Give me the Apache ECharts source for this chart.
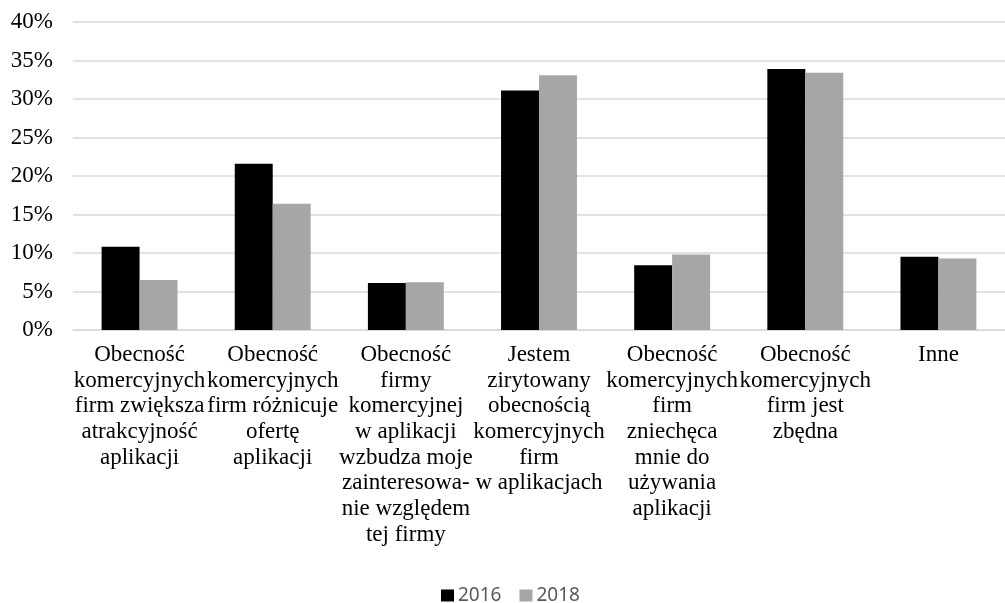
<!DOCTYPE html>
<html>
<head>
<meta charset="utf-8">
<script src="https://cdn.jsdelivr.net/npm/echarts@6/dist/echarts.min.js"></script>
<style>
  html, body { margin: 0; padding: 0; background: #fff; }
  #chart { width: 1005px; height: 603px; }
</style>
</head>
<body>
<div id="chart"></div>
<script>
const categories = [
  "Obecność\nkomercyjnych\nfirm zwiększa\natrakcyjność\naplikacji",
  "Obecność\nkomercyjnych\nfirm różnicuje\nofertę\naplikacji",
  "Obecność\nfirmy\nkomercyjnej\nw aplikacji\nwzbudza moje\nzainteresowa-\nnie względem\ntej firmy",
  "Jestem\nzirytowany\nobecnością\nkomercyjnych\nfirm\nw aplikacjach",
  "Obecność\nkomercyjnych\nfirm\nzniechęca\nmnie do\nużywania\naplikacji",
  "Obecność\nkomercyjnych\nfirm jest\nzbędna",
  "Inne"
];
const values2016 = [10.8, 21.6, 6.1, 31.1, 8.4, 33.9, 9.5];
const values2018 = [6.5, 16.4, 6.2, 33.1, 9.8, 33.4, 9.3];
const seriesNames = ["2016", "2018"];

const chart = echarts.init(document.getElementById('chart'), null, { renderer: 'canvas' });
chart.setOption({
  animation: false,
  backgroundColor: '#ffffff',
  grid: { left: 73, top: 22, width: 941, height: 308, containLabel: false },
  legend: {
    left: 436, top: 581,
    itemWidth: 13, itemHeight: 12, itemGap: 18,
    icon: 'rect',
    textStyle: { fontFamily: 'Noto Sans', fontSize: 19, color: '#595959', padding: [0, 0, 0, -1] },
    data: seriesNames
  },
  xAxis: {
    type: 'category',
    data: categories,
    axisLine: { show: true, lineStyle: { color: '#d9d9d9', width: 1.5 } },
    axisTick: { show: false },
    axisLabel: {
      interval: 0,
      margin: 12,
      fontFamily: 'Liberation Serif',
      fontSize: 23,
      lineHeight: 25.7,
      color: '#000',
      align: 'center'
    }
  },
  yAxis: {
    type: 'value',
    min: 0, max: 40, interval: 5,
    axisLine: { show: false },
    axisTick: { show: false },
    splitLine: { lineStyle: { color: '#d9d9d9', width: 1.5 } },
    axisLabel: {
      formatter: '{value}%',
      margin: 20,
      fontFamily: 'Liberation Serif',
      fontSize: 23,
      color: '#000'
    }
  },
  series: [
    {
      name: seriesNames[0], type: 'bar', data: values2016,
      barGap: '0%', barCategoryGap: '43%',
      itemStyle: { color: '#000000' }
    },
    {
      name: seriesNames[1], type: 'bar', data: values2018,
      barGap: '0%', barCategoryGap: '43%',
      itemStyle: { color: '#a6a6a6' }
    }
  ]
});
</script>
</body>
</html>
